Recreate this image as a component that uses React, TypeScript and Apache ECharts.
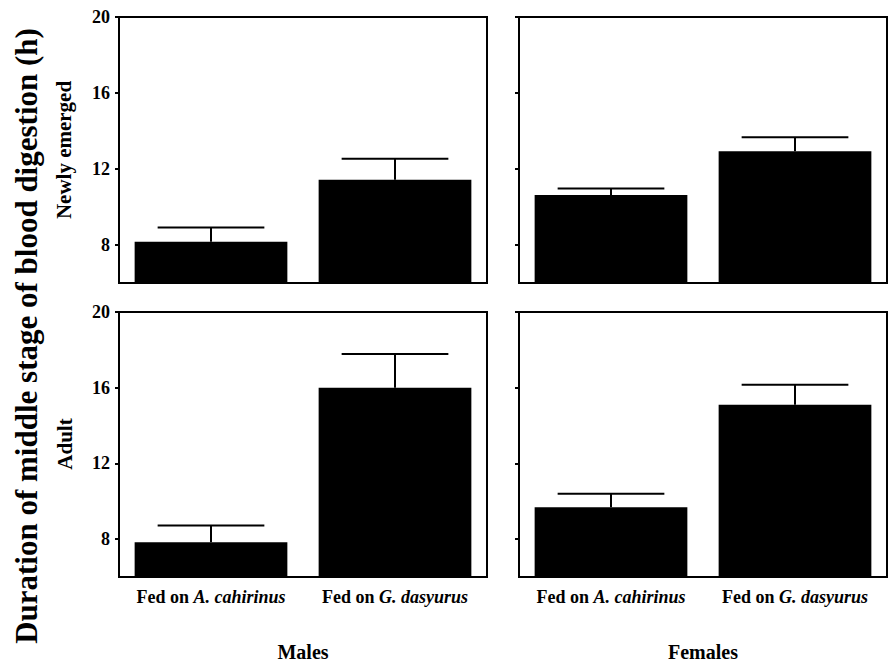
import React, { useEffect, useRef } from "react";
import * as echarts from "echarts";

const categories = ["A. cahirinus", "G. dasyurus"];
const yTicks = [8, 12, 16, 20];

// means (h)
const malesNewlyEmerged = [8.17, 11.43];
const femalesNewlyEmerged = [10.63, 12.93];
const malesAdult = [7.84, 16.0];
const femalesAdult = [9.69, 15.1];

// standard errors (upper whisker length)
const malesNewlyEmergedErr = [0.75, 1.11];
const femalesNewlyEmergedErr = [0.35, 0.74];
const malesAdultErr = [0.88, 1.78];
const femalesAdultErr = [0.71, 1.06];

const rowLabels = ["Newly emerged", "Adult"];
const colLabels = ["Males", "Females"];
const yTitle = "Duration of middle stage of blood digestion (h)";

const FONT = "'Liberation Serif', 'Times New Roman', serif";

export default function App() {
  const ref = useRef<HTMLDivElement>(null);

  useEffect(() => {
    if (!ref.current) return;
    const chart = echarts.init(ref.current, null, { renderer: "svg" });

    const panels = [
      { means: malesNewlyEmerged, errs: malesNewlyEmergedErr, left: 119, top: 17, height: 266, yLabels: true, xLabels: false },
      { means: femalesNewlyEmerged, errs: femalesNewlyEmergedErr, left: 519, top: 17, height: 266, yLabels: false, xLabels: false },
      { means: malesAdult, errs: malesAdultErr, left: 119, top: 312, height: 265, yLabels: true, xLabels: true },
      { means: femalesAdult, errs: femalesAdultErr, left: 519, top: 312, height: 265, yLabels: false, xLabels: true },
    ];

    const grids = panels.map((p) => ({
      left: p.left,
      top: p.top,
      width: 368,
      height: p.height,
      show: true,
      borderColor: "#000",
      borderWidth: 2,
      backgroundColor: "transparent",
    }));

    const xAxes = panels.map((p, i) => ({
      type: "category",
      gridIndex: i,
      data: categories,
      axisLine: { show: true, lineStyle: { color: "#000", width: 2 } },
      axisTick: { show: false },
      axisLabel: {
        show: p.xLabels,
        margin: 11,
        formatter: (v: string) => `{n|Fed on }{i|${v}}`,
        rich: {
          n: { fontFamily: FONT, fontWeight: "bold", fontSize: 18, color: "#000" },
          i: { fontFamily: FONT, fontWeight: "bold", fontStyle: "italic", fontSize: 18, color: "#000" },
        },
      },
    }));

    const yAxes = panels.map((p, i) => ({
      type: "value",
      gridIndex: i,
      min: 6,
      max: 20,
      splitLine: { show: false },
      axisLine: { show: true, lineStyle: { color: "#000", width: 2 } },
      axisTick: {
        show: true,
        inside: false,
        length: 4,
        lineStyle: { color: "#000", width: 2 },
        customValues: yTicks,
      },
      axisLabel: {
        show: p.yLabels,
        margin: 9,
        customValues: yTicks,
        fontFamily: FONT,
        fontWeight: "bold",
        fontSize: 18,
        color: "#000",
      },
    }));

    const series: any[] = [];
    panels.forEach((p, i) => {
      series.push({
        type: "bar",
        xAxisIndex: i,
        yAxisIndex: i,
        data: p.means,
        barWidth: "83%",
        itemStyle: { color: "#000" },
        z: 2,
      });
      series.push({
        type: "custom",
        xAxisIndex: i,
        yAxisIndex: i,
        z: 3,
        data: p.means.map((m, k) => [k, m, p.errs[k]]),
        renderItem: (params: any, api: any) => {
          const x = api.value(0);
          const y = api.value(1);
          const e = api.value(2);
          const p0 = api.coord([x, y]);
          const p1 = api.coord([x, y + e]);
          const w = api.size([1, 0])[0] * 0.58;
          const style = { stroke: "#000", lineWidth: 2 };
          return {
            type: "group",
            children: [
              { type: "line", shape: { x1: p0[0], y1: p0[1], x2: p1[0], y2: p1[1] }, style },
              { type: "line", shape: { x1: p1[0] - w / 2, y1: p1[1], x2: p1[0] + w / 2, y2: p1[1] }, style },
            ],
          };
        },
      });
    });

    const textStyle = (text: string, size: number) => ({
      text,
      fontFamily: FONT,
      fontWeight: "bold",
      fontSize: size,
      fill: "#000",
      textAlign: "center",
      textVerticalAlign: "middle",
    });

    const graphic: any[] = [
      { type: "text", x: 26, y: 336, rotation: Math.PI / 2, style: textStyle(yTitle, 31) },
      { type: "text", x: 64, y: 150, rotation: Math.PI / 2, style: textStyle(rowLabels[0], 21) },
      { type: "text", x: 65, y: 444, rotation: Math.PI / 2, style: textStyle(rowLabels[1], 21) },
      { type: "text", x: 303, y: 652, style: textStyle(colLabels[0], 20) },
      { type: "text", x: 703, y: 652, style: textStyle(colLabels[1], 20) },
    ];

    chart.setOption({
      animation: false,
      backgroundColor: "#fff",
      grid: grids,
      xAxis: xAxes,
      yAxis: yAxes,
      series,
      graphic,
    });

    return () => chart.dispose();
  }, []);

  return (
    <div
      ref={ref}
      style={{ position: "fixed", left: 0, top: 0, width: 891, height: 665, background: "#fff" }}
    />
  );
}
